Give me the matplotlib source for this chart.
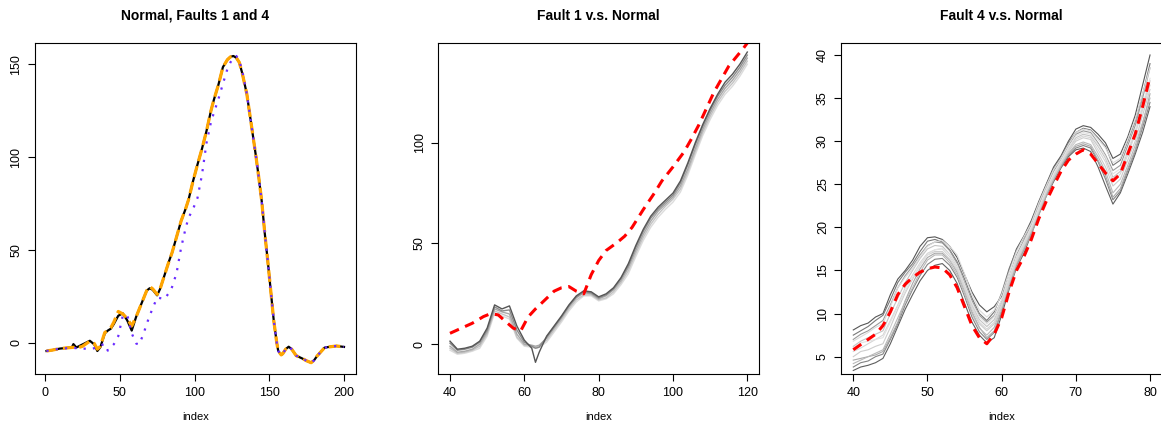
import matplotlib.pyplot as plt

plt.rcParams['font.family'] = ['Liberation Sans', 'DejaVu Sans']

# full profiles, index 1..200
idx = [1, 5, 10, 15, 18, 19, 21, 25, 30, 33, 35, 37, 40, 42, 44, 46, 49, 52, 55, 58,
       61, 63, 66, 68, 70, 72, 75, 77, 80, 83, 85, 88, 91, 94, 96, 99, 102, 105, 108, 111,
       113, 116, 119, 122, 124, 126, 128, 130, 132, 135, 138, 141, 143, 145, 147, 149, 151, 153, 155, 156,
       158, 159, 161, 163, 165, 168, 172, 175, 178, 180, 182, 185, 187, 190, 195, 200]
normal = [-4.5, -4, -3.2, -2.8, -2.5, -0.8, -2.6, -1, 1, -1, -4.5, -2.5, 5, 6.5, 7.5, 10, 14.5, 15.8, 12, 6.5,
          14, 18, 24, 28, 29.3, 28.5, 25.5, 29, 36.5, 44, 48.5, 57, 65.5, 72, 77, 87, 96, 104.5, 114, 125,
          131, 139, 148.5, 152.5, 154, 154.5, 153.5, 151, 145, 134, 117.5, 101, 89, 76, 59, 44, 28, 12, 0, -4.5,
          -6.6, -6, -3.5, -2.2, -3.5, -7, -8.5, -9.8, -10.8, -9.5, -7.2, -4.5, -2.7, -2.3, -1.8, -2.3]
fault1 = [-4.5, -4, -3.2, -2.8, -2.6, -2.5, -3, -2, 0.8, -0.5, -3.5, -2, 5.5, 6.5, 8, 11, 16.8, 15.5, 13, 9,
          14, 18, 24, 28, 30.2, 29, 26, 29, 36.5, 44, 48.5, 57, 65.5, 72, 77, 87, 96, 104.5, 114, 125,
          131, 139, 148.5, 152.5, 154, 154.5, 153.5, 151, 145, 134, 117.5, 101, 89, 76, 59, 44, 28, 12, 0, -4.5,
          -6.6, -6, -3.5, -2.5, -3.5, -7, -8.5, -9.8, -10.8, -9.5, -7.2, -4.5, -2.7, -2.3, -1.8, -2.3]
fault4 = [-4.5, -4, -3.2, -3, -2.8, -2.8, -3, -3.2, -3.4, -3, -2.5, -1.5, -0.7, -4.3, -2.5, -0.9, 3.5, 14.5, 15, 5,
          -0.5, -1, 5, 10, 14.5, 18.5, 24.3, 24, 23.5, 27, 30, 37.5, 51, 61.5, 67.3, 72, 78, 90.5, 107.5, 118.8,
          124, 131.3, 139.5, 147.5, 151, 153.5, 154.5, 152, 146, 134, 117.5, 101, 89, 76, 59, 44, 28, 12, 0, -4.5,
          -6.6, -6, -3.5, -2.2, -3.5, -7, -8.5, -9.8, -10.8, -9.5, -7.2, -4.5, -2.7, -2.3, -1.8, -2.3]

# fault 1 runs over index 40..120
idx1 = [40, 42, 44, 46, 48, 50, 52, 54, 56, 58, 60, 62, 63, 64, 66, 68, 70, 72, 74, 76, 78,
        80, 82, 84, 86, 88, 90, 92, 94, 96, 98, 100, 102, 104, 106, 108, 110, 112, 114, 116, 118, 120]
f1_run1 = [1.5, -2.5, -2, -1, 1.5, 8, 19.5, 17.5, 19, 9, 2, -2, -9, -4, 4, 9, 14, 19.5, 24, 26.5, 26,
           23.5, 25, 28, 33, 40, 49, 57, 63.5, 68, 71.5, 75, 81, 90, 100, 109, 117, 124, 130, 134, 139, 145]
f1_run2 = [0.5, -3, -2.5, -1.5, 1, 7, 18.5, 16.5, 17, 7, 1, -1, -2, -1.5, 3.5, 8.5, 13.5, 19, 23.5, 26, 25.5,
           23, 24.5, 27.5, 32.5, 39, 48, 56, 62.5, 67, 70.5, 74, 80, 89, 99, 108, 116, 123, 128.5, 132.5, 137.5, 143.5]
f1_run3 = [-1, -4, -3.5, -2.5, 0, 6, 17.5, 16, 15, 5, 0, -0.5, -1, -0.5, 3, 8, 13, 18.5, 23, 25.5, 25,
           22.5, 24, 27, 31.5, 38, 46.5, 54.5, 61, 66, 69.5, 73, 78.5, 87, 97, 106.5, 114.5, 121.5, 127, 131, 136, 142]
f1_run4 = [-2, -4.5, -4, -3, -1, 5, 16.5, 15, 13.5, 3.5, -0.5, -1, -1.5, -1, 2, 7, 12, 17.5, 22, 24.5, 24.5,
           22, 23, 26, 30.5, 36.5, 45, 53, 59.5, 64.5, 68.5, 72, 77, 85.5, 95.5, 105, 113, 120, 125.5, 129.5, 134.5, 140.5]
f1_run5 = [-3, -5, -4.5, -3.5, -2, 4, 15.5, 14, 12.5, 3, -1, -1.5, -2, -1.5, 1, 6, 11, 16.5, 21, 24, 24,
           21.5, 22.5, 25, 29.5, 35, 43.5, 51.5, 58, 63, 67, 70.5, 75.5, 84, 94, 103.5, 111.5, 118.5, 124, 128, 133, 139]
ref1_idx = [40, 43, 46, 49, 51, 53, 55, 57, 59, 61, 63, 65, 68, 70, 72, 74, 76, 78, 80, 82,
            85, 87, 89, 92, 95, 97, 100, 103, 105, 107, 109, 111, 113, 115, 117, 119, 120]
ref1 = [5.4, 7.9, 10.4, 13.7, 15.2, 14.5, 11.2, 8, 6.5, 13.5, 17.5, 21, 26.3, 28, 28.6, 26.3, 25, 34.5, 41.5, 46.5,
        50.5, 53.6, 58, 66.8, 75, 81, 88, 95.5, 102, 109, 117, 125, 131.5, 138, 142.5, 147, 149.5]

# fault 4 runs over index 40..80
idx4 = list(range(40, 81))
f4_run1 = [8.1, 8.6, 8.9, 9.6, 10.0, 12.2, 14.0, 15.0, 16.2, 17.8, 18.8, 18.9, 18.6, 17.8, 16.5, 14.5, 12.5, 11.0, 10.2, 10.8,
           12.0, 15.0, 17.5, 19.0, 20.8, 23.0, 25.0, 27.0, 28.3, 30.0, 31.4, 31.8, 31.6, 30.8, 29.8, 28.0, 28.5, 30.5, 33.0, 36.5, 40.0]
f4_run2 = [3.4, 3.8, 4.0, 4.3, 4.8, 6.5, 8.5, 10.5, 12.2, 13.8, 15.0, 15.6, 15.8, 15.0, 13.5, 11.2, 9.0, 7.5, 6.6, 7.2,
           9.8, 12.8, 15.3, 17.0, 19.2, 21.5, 23.6, 25.3, 26.9, 28.2, 29.0, 29.2, 28.8, 27.0, 24.8, 22.7, 24.0, 26.2, 28.5, 31.0, 34.0]
f4_run3 = [7.0, 7.6, 8.0, 8.6, 9.2, 11.0, 13.0, 14.4, 15.5, 16.8, 17.9, 18.3, 18.2, 17.3, 15.8, 13.6, 11.5, 9.8, 9.0, 9.8,
           11.5, 14.2, 16.8, 18.5, 20.3, 22.5, 24.6, 26.5, 27.9, 29.5, 30.8, 31.2, 31.0, 29.8, 28.4, 26.6, 27.2, 29.5, 31.8, 35.0, 38.5]
f4_run4 = [4.6, 4.8, 5.0, 5.2, 5.6, 7.2, 9.0, 11.5, 13.5, 15.2, 16.5, 17.0, 17.0, 16.2, 14.8, 12.6, 10.2, 8.4, 7.2, 8.0,
           10.4, 13.0, 15.4, 17.3, 19.2, 21.4, 23.6, 25.5, 27.1, 28.5, 29.4, 29.7, 29.4, 27.8, 26.0, 23.5, 24.5, 26.8, 29.0, 32.0, 35.5]
f4_run5 = [6.2, 6.8, 7.2, 7.6, 8.0, 10.0, 11.8, 13.6, 15.0, 16.4, 17.5, 17.9, 17.8, 16.9, 15.5, 13.3, 11.0, 9.3, 8.5, 9.3,
           11.2, 14.0, 16.5, 18.2, 20.0, 22.2, 24.2, 26.0, 27.6, 29.1, 30.4, 30.8, 30.6, 29.4, 28.0, 25.8, 26.5, 28.8, 31.0, 34.0, 37.0]
f4_run6 = [4.2, 4.6, 5.0, 5.4, 5.8, 7.6, 9.5, 11.4, 13.0, 14.8, 16.2, 16.8, 16.8, 15.9, 14.5, 12.3, 10.0, 8.3, 7.5, 8.4,
           10.8, 13.3, 15.8, 17.6, 19.5, 21.7, 23.8, 25.6, 27.2, 28.6, 29.6, 29.9, 29.6, 28.2, 26.5, 24.0, 25.0, 27.2, 29.5, 32.2, 35.0]
f4_run7 = [5.6, 6.0, 6.5, 7.0, 7.5, 9.2, 11.0, 13.0, 14.5, 15.9, 17.0, 17.4, 17.5, 16.6, 15.2, 13.0, 10.8, 9.0, 8.2, 9.0,
           11.0, 13.8, 16.2, 18.0, 19.9, 22.0, 24.1, 25.9, 27.5, 29.0, 30.2, 30.6, 30.4, 29.0, 27.6, 25.3, 26.2, 28.4, 30.8, 33.6, 36.5]
f4_run8 = [6.8, 7.3, 7.8, 8.4, 8.8, 10.8, 13.0, 14.2, 15.2, 16.6, 17.8, 18.3, 18.5, 17.8, 16.8, 14.6, 12.2, 10.4, 9.6, 10.4,
           12.2, 14.8, 17.2, 18.9, 20.5, 22.8, 24.8, 26.7, 28.0, 29.6, 31.0, 31.4, 31.2, 30.2, 29.2, 27.5, 28.0, 30.2, 32.5, 35.5, 38.5]
f4_run9 = [5.0, 5.6, 5.8, 6.2, 6.5, 8.4, 10.5, 12.4, 14.0, 15.6, 16.8, 17.2, 17.2, 16.3, 15.0, 12.8, 10.5, 8.8, 8.0, 8.8,
           10.8, 13.6, 16.0, 17.8, 19.7, 21.8, 24.0, 25.8, 27.4, 28.8, 30.0, 30.4, 30.2, 28.6, 27.0, 24.8, 25.6, 27.8, 30.0, 33.0, 36.0]
f4_run10 = [6.0, 6.6, 6.8, 7.0, 7.2, 9.0, 10.8, 12.6, 14.2, 15.6, 16.8, 17.4, 17.6, 16.9, 15.6, 13.4, 11.2, 9.6, 8.8, 9.6,
            11.6, 14.2, 16.6, 18.3, 20.1, 22.3, 24.4, 26.2, 27.7, 29.2, 30.6, 31.0, 30.8, 29.6, 28.2, 26.2, 26.8, 29.0, 31.2, 34.2, 37.3]
f4_run11 = [7.5, 8.0, 8.5, 9.2, 9.8, 11.6, 13.6, 14.8, 15.8, 17.2, 18.4, 18.6, 18.3, 17.4, 16.0, 14.0, 11.8, 10.0, 9.2, 10.2,
            12.4, 15.2, 17.4, 18.8, 20.6, 22.8, 24.9, 26.8, 28.1, 29.8, 31.0, 31.5, 31.3, 30.4, 29.4, 27.2, 27.8, 30.0, 32.3, 35.4, 39.0]
f4_run12 = [3.8, 4.3, 4.5, 5.0, 5.3, 7.0, 8.8, 11.0, 12.8, 14.4, 15.7, 16.3, 16.4, 15.6, 14.2, 12.0, 9.6, 7.9, 7.0, 7.8,
            10.2, 13.2, 15.6, 17.4, 19.4, 21.6, 23.8, 25.5, 27.0, 28.4, 29.2, 29.5, 29.2, 27.6, 25.6, 23.2, 24.2, 26.6, 28.8, 31.6, 34.5]
ref4 = [5.8, 6.4, 7.0, 7.6, 8.6, 10.2, 12.2, 13.4, 14.2, 14.8, 15.2, 15.4, 15.3, 14.5, 13.0, 10.8, 8.6, 7.2, 6.5, 7.6,
        9.5, 12.5, 15.0, 16.6, 18.6, 21.0, 23.0, 24.8, 26.5, 27.8, 28.5, 29.0, 28.5, 27.4, 26.3, 25.4, 26.2, 28.5, 30.8, 34.0, 37.5]

W, H = 1161, 430
fig = plt.figure(figsize=(W / 100, H / 100), dpi=100)


def panel(left, right, title, xlim, ylim, xticks, yticks):
    ax = fig.add_axes([left / W, (H - 374) / H, (right - left) / W, 331 / H])
    ax.set_xlim(xlim)
    ax.set_ylim(ylim)
    ax.set_xticks(xticks)
    ax.set_yticks(yticks)
    ax.tick_params(direction='out', length=5, width=0.8, labelsize=9, pad=4)
    ax.tick_params(axis='y', labelrotation=90)
    for lab in ax.get_yticklabels():
        lab.set_verticalalignment('center')
    for s in ax.spines.values():
        s.set_linewidth(0.8)
    ax.set_xlabel('index', fontsize=8, labelpad=10)
    fig.text((left + right) / 2 / W, 1 - 16 / H, title, ha='center', va='center',
             fontsize=10, fontweight='bold')
    return ax


ax1 = panel(34.6, 355.9, 'Normal, Faults 1 and 4', (-6.96, 207.96), (-16.9, 161.5),
            [0, 50, 100, 150, 200], [0, 50, 100, 150])
ax1.plot(idx, normal, color='black', lw=1.6)
ax1.plot(idx, fault1, color='orange', lw=2.3, dashes=(3.6, 1.6))
ax1.plot(idx, fault4, color='#6a2cff', lw=1.6, linestyle=(0, (1, 3.2)))

ax2 = panel(438.1, 759.2, 'Fault 1 v.s. Normal', (36.8, 123.2), (-14.8, 149.5),
            [40, 60, 80, 100, 120], [0, 50, 100])
for run, c in zip([f1_run5, f1_run4, f1_run3, f1_run2, f1_run1],
                  ['#dcdcdc', '#c4c4c4', '#a8a8a8', '#8a8a8a', '#555555']):
    ax2.plot(idx1, run, color=c, lw=1.0)
ax2.plot(ref1_idx, ref1, color='red', lw=2.2, dashes=(3.2, 2.2))

ax3 = panel(841.4, 1161.9, 'Fault 4 v.s. Normal', (38.4, 81.6), (2.99, 41.39),
            [40, 50, 60, 70, 80], [5, 10, 15, 20, 25, 30, 35, 40])
f4_runs = [f4_run1, f4_run2, f4_run11, f4_run12, f4_run3, f4_run4, f4_run6, f4_run5,
           f4_run9, f4_run7, f4_run8, f4_run10]
f4_cols = ['#555555', '#5e5e5e', '#787878', '#848484', '#9a9a9a', '#a8a8a8', '#b8b8b8',
           '#c4c4c4', '#cdcdcd', '#d6d6d6', '#dcdcdc', '#e2e2e2']
for run, c in zip(f4_runs, f4_cols):
    ax3.plot(idx4, run, color=c, lw=0.8)
ax3.plot(idx4, ref4, color='red', lw=2.2, dashes=(3.2, 2.2))

fig.savefig('out.png', dpi=100)
